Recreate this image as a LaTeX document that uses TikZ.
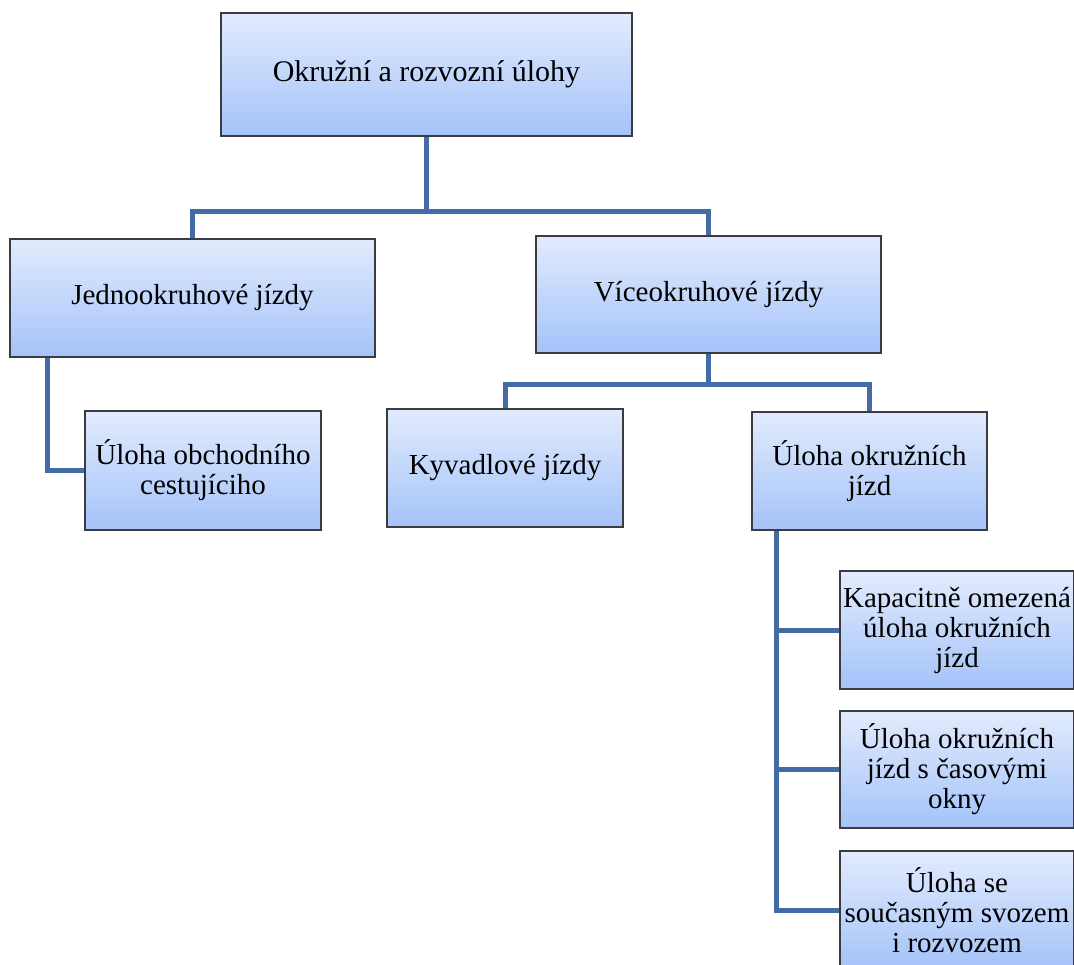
\documentclass[tikz,border=0pt]{standalone}
\usepackage{fontspec}
\setmainfont{Liberation Serif}
\usetikzlibrary{backgrounds}
\definecolor{boxtop}{RGB}{226,235,253}
\definecolor{boxbot}{RGB}{164,195,249}
\definecolor{boxline}{RGB}{60,60,64}
\definecolor{linkblue}{RGB}{66,108,163}
\tikzset{
  box/.style={rectangle, draw=boxline, line width=1.4pt,
    top color=boxtop, bottom color=boxbot, align=center,
    inner sep=2pt, font=\fontsize{29}{30}\selectfont},
  link/.style={draw=linkblue, line width=5pt, line join=miter}
}
\begin{document}
\begin{tikzpicture}[x=1pt,y=-1pt]
\useasboundingbox (0,0) rectangle (1074,965);

% hierarchy boxes
\node[box, minimum width=411pt, minimum height=123pt, font=\fontsize{30}{31}\selectfont]
  (root) at (426.5,74.5) {Okružní a rozvozní úlohy};
\node[box, minimum width=365pt, minimum height=118pt] (jedno) at (192.5,298) {Jednookruhové jízdy};
\node[box, minimum width=345pt, minimum height=117pt] (vice) at (708.5,294.5) {Víceokruhové jízdy};
\node[box, minimum width=236pt, minimum height=119pt] (obch) at (203,470.5) {Úloha obchodního\\cestujíciho};
\node[box, minimum width=236pt, minimum height=118pt] (kyv) at (505,468) {Kyvadlové jízdy};
\node[box, minimum width=235pt, minimum height=118pt] (okr) at (869.5,471) {Úloha okružních\\jízd};
\node[box, minimum width=234pt, minimum height=118pt] (kap) at (957,630) {Kapacitně omezená\\úloha okružních\\jízd};
\node[box, minimum width=234pt, minimum height=117pt] (cas) at (957,769.5) {Úloha okružních\\jízd s časovými\\okny};
\node[box, minimum width=234pt, minimum height=118pt] (svoz) at (957,910) {Úloha se\\současným svozem\\i rozvozem};

% connectors, drawn behind the boxes
\begin{scope}[on background layer]
  \coordinate (bus1) at (root.south |- 0,212);
  \coordinate (bus2) at (vice.south |- 0,385);
  \coordinate (spine1) at (47,0);
  \coordinate (spine2) at (776,0);
  \draw[link] (root.south) -- (bus1) -| (jedno.north);
  \draw[link] (bus1) -| (vice.north);
  \draw[link] (vice.south) -- (bus2) -| (kyv.north);
  \draw[link] (bus2) -| (okr.north);
  \draw[link] (jedno.south -| spine1) |- (obch.west);
  \draw[link] (okr.south -| spine2) |- (kap.west);
  \draw[link] (okr.south -| spine2) |- (cas.west);
  \draw[link] (okr.south -| spine2) |- (svoz.west);
\end{scope}
\end{tikzpicture}
\end{document}
